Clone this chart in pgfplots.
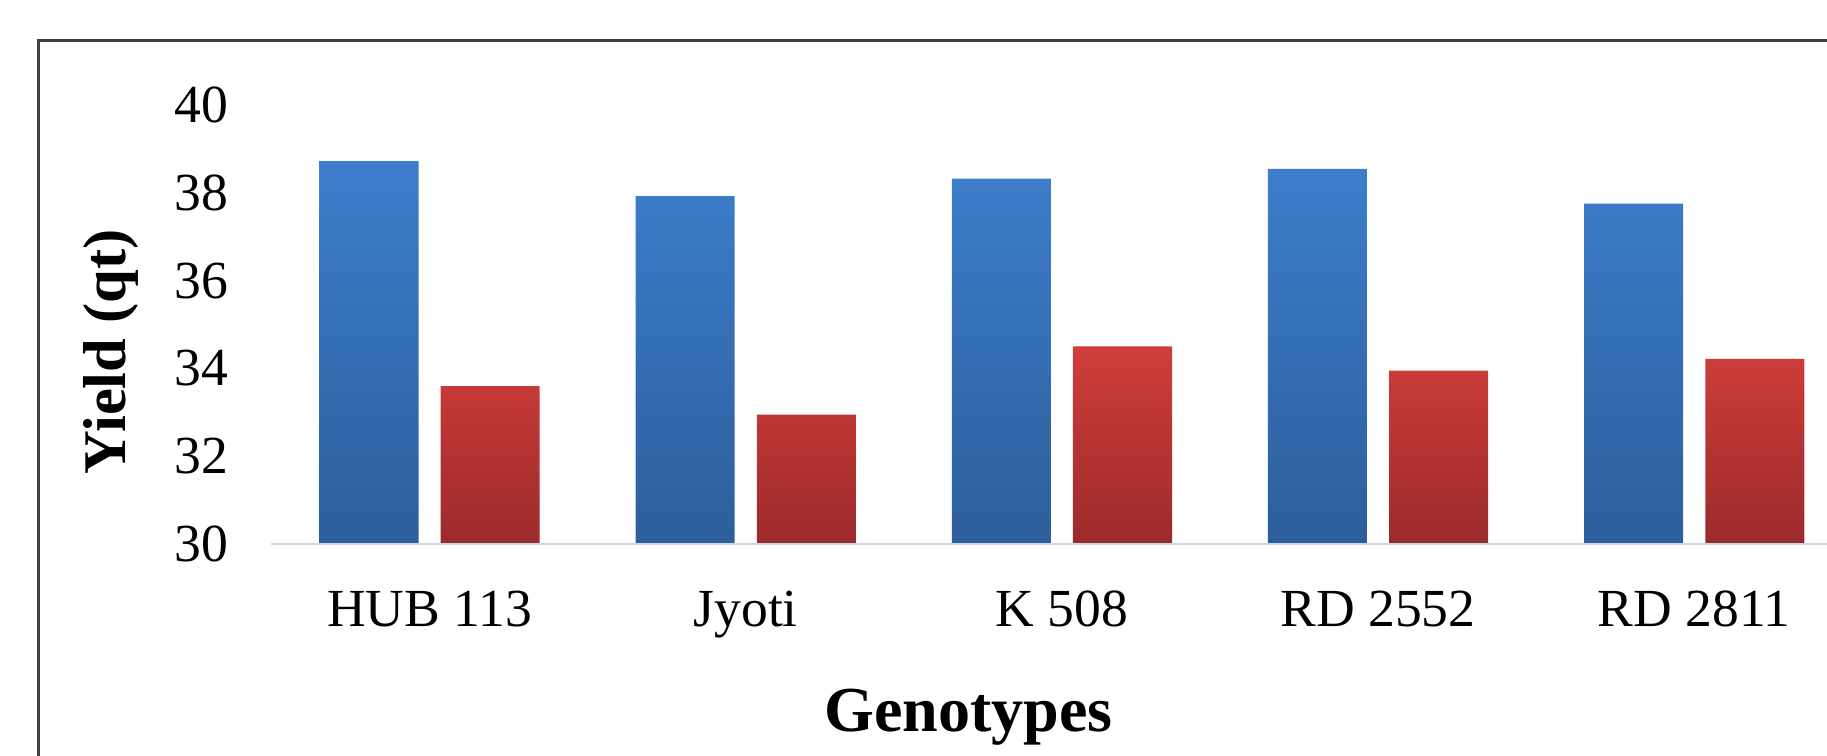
\documentclass[border=0pt]{standalone}
\usepackage{fontspec}
\setmainfont{Liberation Serif}
\usepackage{pgfplots}
\pgfplotsset{compat=1.18}
\definecolor{bluetop}{HTML}{3D7ECC}
\definecolor{bluebot}{HTML}{2D5E9B}
\definecolor{redtop}{HTML}{CF3E3A}
\definecolor{redbot}{HTML}{9C2A2B}
\definecolor{baseln}{HTML}{C8D9EE}
\begin{document}
\begin{tikzpicture}[x=1pt,y=1pt]
\draw[line width=1.2pt, color=black!75] (16.5,-20) -- (16.5,306.5) -- (820,306.5);
\begin{axis}[
 name=ax,
 scale only axis, width=667.5pt, height=188.5pt,
 at={(116.5pt,90.5pt)}, anchor=south west,
 xmin=-0.5, xmax=4.42, ymin=30, ymax=40,
 ytick={30,32,...,40},
 xtick={0,...,4}, xticklabels={HUB 113, Jyoti, K 508, RD 2552, RD 2811},
 axis line style={draw=none}, major tick length=0pt,
 /pgf/number format/assume math mode=true,
 ticklabel style={font=\fontsize{23}{27}\selectfont},
 yticklabel style={anchor=east, inner sep=0pt, xshift=-18.5pt},
 xticklabel style={anchor=base, inner sep=0pt, yshift=-35.5pt},
 xlabel={\textbf{Genotypes}},
 xlabel style={font=\fontsize{27.5}{30}\selectfont, at={([yshift=-80.5pt]axis description cs:0.448,0)}, anchor=base},
 ylabel={\textbf{Yield (qt)}},
 ylabel style={font=\fontsize{26}{30}\selectfont, at={([xshift=-69pt]axis description cs:0,0.438)}, anchor=center},
 ybar, bar width=42.5pt,
]
\addplot[draw=none, top color=bluetop, bottom color=bluebot, bar shift=-26pt] coordinates {(0,38.72) (1,37.92) (2,38.32) (3,38.54) (4,37.75)};
\addplot[draw=none, top color=redtop, bottom color=redbot, bar shift=26pt] coordinates {(0,33.6) (1,32.95) (2,34.5) (3,33.95) (4,34.22)};
\end{axis}
\draw[baseln, line width=1pt] (ax.south west) -- (ax.south east);
\pgfresetboundingbox
\useasboundingbox (0,0) rectangle (784,324);
\end{tikzpicture}
\end{document}
